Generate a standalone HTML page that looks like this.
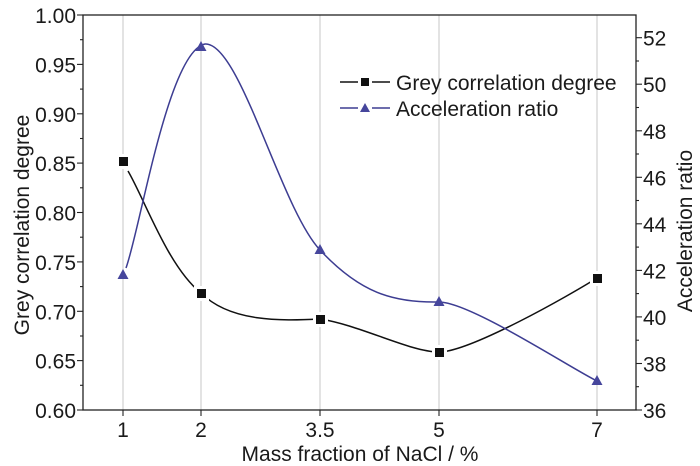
<!DOCTYPE html>
<html><head><meta charset="utf-8"><style>
body{margin:0;background:#fff}
svg{display:block}
text{font-family:"Liberation Sans",Arial,sans-serif;fill:#1a1a1a}
</style></head><body>
<svg width="700" height="466" viewBox="0 0 700 466" xmlns="http://www.w3.org/2000/svg">
<g stroke="#d0d0d0" stroke-width="1.2">
<line x1="123" y1="15" x2="123" y2="410"/><line x1="201" y1="15" x2="201" y2="410"/>
<line x1="320" y1="15" x2="320" y2="410"/><line x1="439" y1="15" x2="439" y2="410"/>
<line x1="597" y1="15" x2="597" y2="410"/>
</g>
<rect x="83" y="15" width="553" height="395" fill="none" stroke="#222" stroke-width="1.3"/>
<g stroke="#222" stroke-width="1.1">
<line x1="77" y1="410" x2="83" y2="410"/><line x1="77" y1="360.6" x2="83" y2="360.6"/><line x1="77" y1="311.3" x2="83" y2="311.3"/><line x1="77" y1="261.9" x2="83" y2="261.9"/><line x1="77" y1="212.5" x2="83" y2="212.5"/><line x1="77" y1="163.1" x2="83" y2="163.1"/><line x1="77" y1="113.8" x2="83" y2="113.8"/><line x1="77" y1="64.4" x2="83" y2="64.4"/><line x1="77" y1="15" x2="83" y2="15"/>
<line x1="80" y1="385.3" x2="83" y2="385.3"/><line x1="80" y1="336" x2="83" y2="336"/><line x1="80" y1="286.6" x2="83" y2="286.6"/><line x1="80" y1="237.2" x2="83" y2="237.2"/><line x1="80" y1="187.8" x2="83" y2="187.8"/><line x1="80" y1="138.5" x2="83" y2="138.5"/><line x1="80" y1="89.1" x2="83" y2="89.1"/><line x1="80" y1="39.7" x2="83" y2="39.7"/>
<line x1="636" y1="410" x2="642" y2="410"/><line x1="636" y1="363.5" x2="642" y2="363.5"/><line x1="636" y1="316.9" x2="642" y2="316.9"/><line x1="636" y1="270.4" x2="642" y2="270.4"/><line x1="636" y1="223.8" x2="642" y2="223.8"/><line x1="636" y1="177.3" x2="642" y2="177.3"/><line x1="636" y1="130.8" x2="642" y2="130.8"/><line x1="636" y1="84.2" x2="642" y2="84.2"/><line x1="636" y1="37.7" x2="642" y2="37.7"/>
<line x1="636" y1="386.7" x2="639" y2="386.7"/><line x1="636" y1="340.2" x2="639" y2="340.2"/><line x1="636" y1="293.6" x2="639" y2="293.6"/><line x1="636" y1="247.1" x2="639" y2="247.1"/><line x1="636" y1="200.5" x2="639" y2="200.5"/><line x1="636" y1="154" x2="639" y2="154"/><line x1="636" y1="107.5" x2="639" y2="107.5"/><line x1="636" y1="61" x2="639" y2="61"/>
<line x1="123" y1="410" x2="123" y2="416"/><line x1="201" y1="410" x2="201" y2="416"/><line x1="320" y1="410" x2="320" y2="416"/><line x1="439" y1="410" x2="439" y2="416"/><line x1="597" y1="410" x2="597" y2="416"/>
</g>
<g font-size="21" text-anchor="end">
<text x="76" y="418">0.60</text><text x="76" y="368.6">0.65</text><text x="76" y="319.3">0.70</text><text x="76" y="269.9">0.75</text><text x="76" y="220.5">0.80</text><text x="76" y="171.1">0.85</text><text x="76" y="121.8">0.90</text><text x="76" y="72.4">0.95</text><text x="76" y="23">1.00</text>
</g>
<g font-size="21">
<text x="643" y="418">36</text><text x="643" y="371.5">38</text><text x="643" y="324.9">40</text><text x="643" y="278.4">42</text><text x="643" y="231.8">44</text><text x="643" y="185.3">46</text><text x="643" y="138.8">48</text><text x="643" y="92.2">50</text><text x="643" y="45.7">52</text>
</g>
<g font-size="21" text-anchor="middle">
<text x="123" y="437">1</text><text x="201" y="437">2</text><text x="320" y="437">3.5</text><text x="439" y="437">5</text><text x="597" y="437">7</text>
<text x="360" y="461">Mass fraction of NaCl / %</text>
<text transform="translate(29,225) rotate(-90)">Grey correlation degree</text>
<text transform="translate(692,231) rotate(-90)">Acceleration ratio</text>
</g>
<path d="M128,171 C145,200 168,266.7 201,293 C230,322 280,321 320,319 C360,325 410,352 439,352 C470,352 570,295 597,278" fill="none" stroke="#111" stroke-width="1.5"/>
<path d="M126,268 C140,230 168.2,51.2 205,44 C240,42 280.3,207.5 320,250 C359.7,292.5 392.8,303 439,302 C470,302 570,367.8 597,381" fill="none" stroke="#3d3d92" stroke-width="1.5"/>
<g fill="#fff">
<rect x="116" y="154" width="15" height="15"/><rect x="194" y="286" width="15" height="15"/><rect x="313" y="312" width="15" height="15"/><rect x="432" y="345" width="15" height="15"/><rect x="590" y="271" width="15" height="15"/>
</g>
<g fill="#111">
<rect x="119" y="157" width="9" height="9"/><rect x="197" y="289" width="9" height="9"/><rect x="316" y="315" width="9" height="9"/><rect x="435" y="348" width="9" height="9"/><rect x="593" y="274" width="9" height="9"/>
</g>
<g fill="#46469c">
<polygon points="123,269 117.5,279 128.5,279"/><polygon points="201,41 195.5,51 206.5,51"/><polygon points="320,244 314.5,254 325.5,254"/><polygon points="439,296 433.5,306 444.5,306"/><polygon points="597,375 591.5,385 602.5,385"/>
</g>
<line x1="340" y1="82" x2="358" y2="82" stroke="#111" stroke-width="1.5"/>
<line x1="372" y1="82" x2="390" y2="82" stroke="#111" stroke-width="1.5"/>
<rect x="361" y="78" width="8" height="8" fill="#111"/>
<line x1="340" y1="108" x2="358" y2="108" stroke="#3d3d92" stroke-width="1.5"/>
<line x1="372" y1="108" x2="390" y2="108" stroke="#3d3d92" stroke-width="1.5"/>
<polygon points="365,103 360,112 370,112" fill="#46469c"/>
<text x="396" y="90" font-size="21">Grey correlation degree</text>
<text x="396" y="116" font-size="21">Acceleration ratio</text>
</svg>
</body></html>
